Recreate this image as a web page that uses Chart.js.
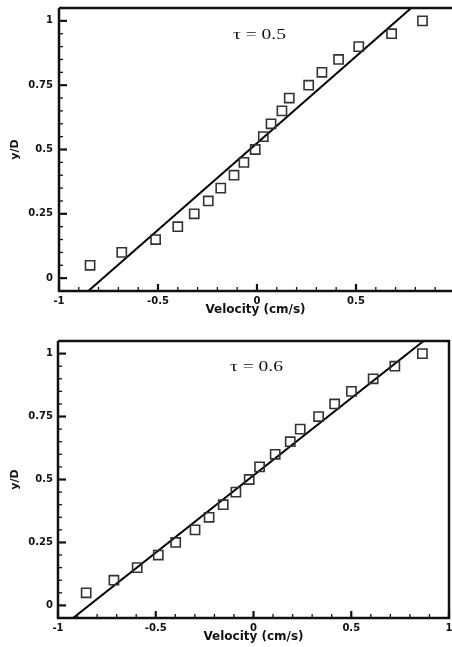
<!DOCTYPE html>
<html><head><meta charset="utf-8">
<script src="https://cdn.jsdelivr.net/npm/chart.js@4.4.1/dist/chart.umd.min.js"></script>
<style>
html,body{margin:0;padding:0;background:#fff;}
body{width:452px;height:647px;overflow:hidden;position:relative;}
#w1{position:absolute;left:0;top:0;width:452px;height:320px;}
#w2{position:absolute;left:0;top:320px;width:452px;height:327px;}
</style></head>
<body>
<div id="w1"><canvas id="c1" width="452" height="320"></canvas></div>
<div id="w2"><canvas id="c2" width="452" height="327"></canvas></div>
<script>
// ---- data ----
const yOverD = [0.05,0.10,0.15,0.20,0.25,0.30,0.35,0.40,0.45,0.50,0.55,0.60,0.65,0.70,0.75,0.80,0.85,0.90,0.95,1.00];
const velTau05 = [-0.843,-0.683,-0.512,-0.400,-0.317,-0.246,-0.183,-0.116,-0.066,-0.009,0.032,0.071,0.126,0.163,0.261,0.328,0.412,0.514,0.680,0.836];
const velTau06 = [-0.856,-0.714,-0.595,-0.487,-0.398,-0.299,-0.227,-0.155,-0.090,-0.022,0.031,0.111,0.188,0.239,0.333,0.415,0.501,0.612,0.723,0.864];
const fitTau05X = [-0.852, 0.779];
const fitTau05Y = [-0.05, 1.05];
const fitTau06X = [-0.923, 0.870];
const fitTau06Y = [-0.05, 1.05];
const xTickValues = [-1, -0.5, 0, 0.5, 1];
const xTickLabels = ['-1', '-0.5', '0', '0.5', '1'];
const yTickValues = [0, 0.25, 0.5, 0.75, 1];
const yTickLabels = ['0', '0.25', '0.5', '0.75', '1'];
const panelLabels = ['\u03C4 = 0.5', '\u03C4 = 0.6'];
const xTitle = 'Velocity (cm/s)';
const yTitle = 'y/D';

const pts = (xs, ys) => xs.map((x, i) => ({x: x, y: ys[i]}));

const framePlugin = {
  id: 'frame',
  afterDatasetsDraw(chart, args, opts) {
    const {ctx, chartArea: a, scales: {x, y}} = chart;
    ctx.save();
    ctx.strokeStyle = '#111';
    ctx.lineCap = 'butt';
    // frame
    ctx.lineWidth = 2.5;
    ctx.beginPath();
    ctx.moveTo(a.left, a.top); ctx.lineTo(a.left, a.bottom);
    ctx.lineTo(a.right, a.bottom);
    if (opts.right) { ctx.lineTo(a.right, a.top); ctx.lineTo(a.left, a.top); }
    else { ctx.moveTo(a.left, a.top); ctx.lineTo(a.right + 2, a.top); }
    ctx.stroke();
    // inward y ticks
    for (let k = 0; k <= 20; k++) {
      const v = k * 0.05;
      const major = k % 5 === 0;
      const py = y.getPixelForValue(v);
      ctx.lineWidth = major ? 2.2 : 1.3;
      ctx.beginPath();
      ctx.moveTo(a.left, py);
      ctx.lineTo(a.left + (major ? 8 : 4), py);
      ctx.stroke();
    }
    // inward x ticks
    for (let k = -10; k <= 10; k++) {
      const v = k / 10;
      if (v > x.max + 1e-9 || v < x.min - 1e-9) continue;
      const major = k % 5 === 0;
      const px = x.getPixelForValue(v);
      ctx.lineWidth = major ? 2.2 : 1.3;
      ctx.beginPath();
      ctx.moveTo(px, a.bottom);
      ctx.lineTo(px, a.bottom - (major ? 7 : 4));
      ctx.stroke();
    }
    // panel label
    const tx = x.getPixelForValue(opts.labelX);
    const ty = y.getPixelForValue(opts.labelY);
    ctx.translate(tx, ty);
    ctx.scale(1.3, 1);
    ctx.fillStyle = '#111';
    ctx.font = '15px "Liberation Serif", "DejaVu Serif", serif';
    ctx.textBaseline = 'middle';
    ctx.textAlign = 'left';
    ctx.fillText(opts.text, 0, 0);
    ctx.restore();
  }
};

function makeChart(id, vel, fitX, fitY, p) {
  const tickFont = {family: '"DejaVu Sans", sans-serif', weight: 'bold', size: 10};
  return new Chart(document.getElementById(id), {
    type: 'scatter',
    data: {
      datasets: [
        {
          data: pts(fitX, fitY), showLine: true, borderColor: '#000', borderWidth: 2,
          pointRadius: 0, tension: 0, order: 2
        },
        {
          data: pts(vel, yOverD), showLine: false, pointStyle: 'rect', pointRadius: 6.5,
          pointBorderColor: '#333', pointBorderWidth: 1.6, pointBackgroundColor: 'rgba(0,0,0,0)', order: 1
        }
      ]
    },
    options: {
      responsive: false, animation: false, events: [],
      layout: {autoPadding: false, padding: {top: p.padTop, right: p.padRight, left: 0, bottom: 0}},
      plugins: {legend: {display: false}, tooltip: {enabled: false},
        frame: {right: p.right, labelX: p.labelX, labelY: p.labelY, text: p.text}},
      scales: {
        x: {
          type: 'linear', position: 'bottom', min: -1, max: p.xMax,
          grid: {display: false, drawTicks: false}, border: {display: false},
          afterBuildTicks: s => { s.ticks = xTickValues.filter(v => v <= p.xMax + 1e-9).map(v => ({value: v})); },
          ticks: {font: tickFont, color: '#111', padding: 4, maxRotation: 0, autoSkip: false,
            callback: (v) => xTickLabels[xTickValues.indexOf(v)]},
          title: {display: true, text: xTitle, color: '#111',
            font: {family: '"DejaVu Sans", sans-serif', weight: 'bold', size: 12},
            padding: {top: 0, bottom: 3}},
          afterFit: s => { s.height = 29; s.paddingLeft = 0; s.paddingRight = 0; }
        },
        y: {
          type: 'linear', position: 'left', min: -0.05, max: 1.05,
          grid: {display: false, drawTicks: false}, border: {display: false},
          afterBuildTicks: s => { s.ticks = yTickValues.map(v => ({value: v})); },
          ticks: {font: tickFont, color: '#111', padding: p.yPad, autoSkip: false,
            callback: (v) => yTickLabels[yTickValues.indexOf(v)]},
          title: {display: true, text: yTitle, color: '#111',
            font: {family: '"DejaVu Sans", sans-serif', weight: 'bold', size: 11},
            padding: {top: 9, bottom: 0}},
          afterFit: s => { s.width = p.yWidth; s.paddingTop = 0; s.paddingBottom = 0; }
        }
      }
    },
    plugins: [framePlugin]
  });
}

makeChart('c1', velTau05, fitTau05X, fitTau05Y,
  {padTop: 8, padRight: 0, xMax: 0.985, right: false, yWidth: 59, yPad: 6,
   labelX: -0.121, labelY: 0.943, text: panelLabels[0]});
makeChart('c2', velTau06, fitTau06X, fitTau06Y,
  {padTop: 21, padRight: 3, xMax: 1, right: true, yWidth: 58, yPad: 5,
   labelX: -0.12, labelY: 0.947, text: panelLabels[1]});
</script>
</body></html>
